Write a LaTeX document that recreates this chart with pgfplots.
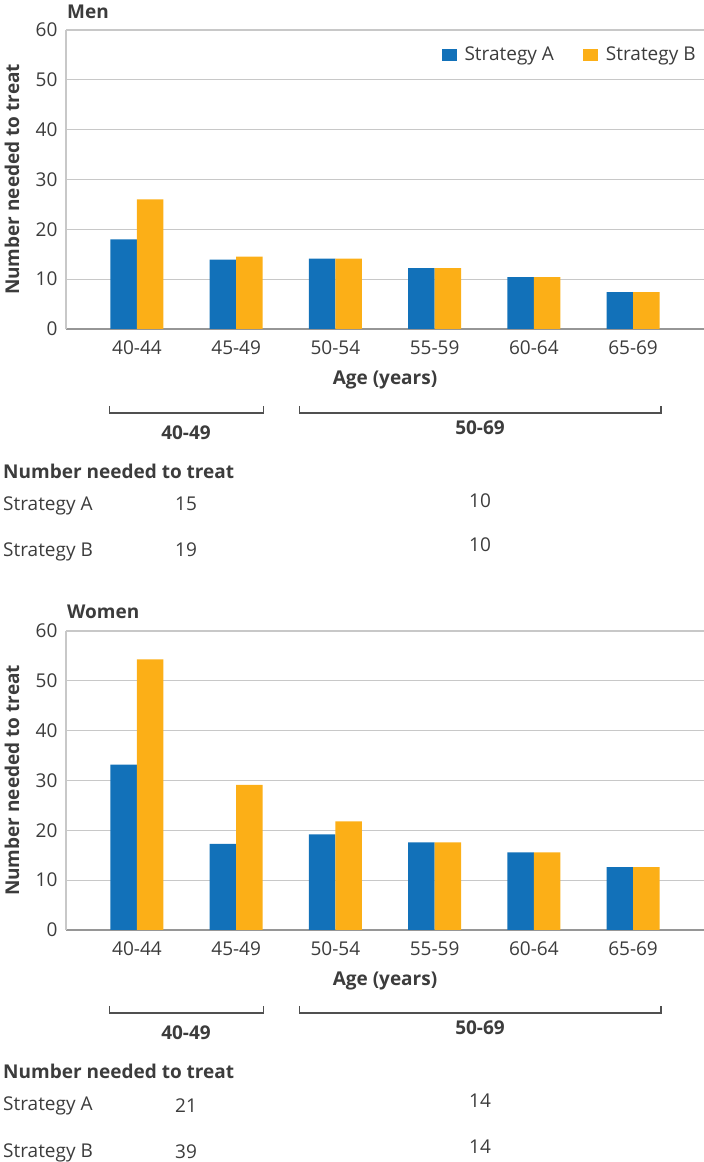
\documentclass[border=0pt]{standalone}
\usepackage{fontspec}
\setmainfont{Open Sans}
\usepackage{pgfplots}
\pgfplotsset{compat=1.18}

\definecolor{stratA}{RGB}{18,113,185}
\definecolor{stratB}{RGB}{252,175,23}
\definecolor{gridgray}{RGB}{200,200,200}
\definecolor{axgray}{RGB}{150,150,150}
\definecolor{txt}{RGB}{60,60,60}

\pgfplotsset{
  nnt/.style={
    scale only axis, width=638pt, height=299pt,
    anchor=south west,
    ybar=0pt, bar width=26.5pt,
    xmin=-0.715, xmax=5.715, ymin=0, ymax=60,
    xtick={0,...,5},
    xticklabels={40-44,45-49,50-54,55-59,60-64,65-69},
    ytick={0,10,...,60},
    /pgf/number format/assume math mode=true,
    axis x line*=bottom, axis y line*=left,
    x axis line style={-, draw=axgray, line width=1.2pt},
    y axis line style={-, draw=gridgray, line width=1.2pt},
    ymajorgrids, major grid style={draw=gridgray, line width=1.2pt},
    major tick length=0pt,
    tick label style={text=txt},
    xticklabel style={yshift=-5pt},
    yticklabel style={xshift=-2pt},
    xlabel={\bfseries Age (years)},
    ylabel={\bfseries Number needed to treat},
    xlabel style={at={(axis description cs:0.5,-0.187)}, anchor=base, text=txt},
    ylabel style={at={(axis description cs:-0.0846,0.5)}, anchor=center, text=txt},
  }
}

\begin{document}
\fontsize{19}{23}\selectfont
\begin{tikzpicture}
\useasboundingbox (0,0) rectangle (704pt,1162pt);

% Men
\begin{axis}[nnt, at={(66pt,833pt)},
    legend style={at={(rel axis cs:0.995,0.916)}, anchor=east, draw=none, fill=none,
                  legend columns=2, text=txt,
                  /tikz/every even column/.append style={column sep=27pt}},
    legend image code/.code={\draw[#1, draw=none] (0pt,-6pt) rectangle (15pt,6pt);
                             \path (21pt,0pt);}]
\addplot[fill=stratA, draw=none] coordinates {(0,18.0) (1,13.9) (2,14.1) (3,12.2) (4,10.4) (5,7.4)};
\addplot[fill=stratB, draw=none] coordinates {(0,26.0) (1,14.5) (2,14.1) (3,12.2) (4,10.4) (5,7.4)};
\legend{Strategy A, Strategy B}
\end{axis}

% Women
\begin{axis}[nnt, at={(66pt,232pt)}]
\addplot[fill=stratA, draw=none] coordinates {(0,33.2) (1,17.3) (2,19.2) (3,17.6) (4,15.6) (5,12.6)};
\addplot[fill=stratB, draw=none] coordinates {(0,54.3) (1,29.1) (2,21.8) (3,17.6) (4,15.6) (5,12.6)};
\end{axis}

\begin{scope}[every node/.style={inner sep=0pt, text=txt}]
  % titles
  \node[anchor=base west, font=\bfseries] at (67pt,1143.5pt) {Men};
  \node[anchor=base west, font=\bfseries] at (67pt,543.5pt) {Women};

  \foreach \dy in {0,600} {
    \draw[draw=txt!90, line width=1.3pt]
      (109.5pt,756pt-\dy pt) -- (109.5pt,749pt-\dy pt) -- (263.5pt,749pt-\dy pt) -- (263.5pt,756pt-\dy pt);
    \draw[draw=txt!90, line width=1.3pt]
      (299.5pt,756pt-\dy pt) -- (299.5pt,749pt-\dy pt) -- (661pt,749pt-\dy pt) -- (661pt,756pt-\dy pt);
    \node[anchor=base, font=\bfseries] at (186pt,722pt-\dy pt) {40-49};
    \node[anchor=base, font=\bfseries] at (480pt,727pt-\dy pt) {50-69};
    \node[anchor=base west, font=\bfseries] at (3pt,683.7pt-\dy pt) {Number needed to treat};
    \node[anchor=base west] at (3pt,651pt-\dy pt) {Strategy A};
    \node[anchor=base west] at (3pt,605pt-\dy pt) {Strategy B};
  }
  % men group values
  \node[anchor=base] at (186pt,651pt) {15};
  \node[anchor=base] at (186pt,605pt) {19};
  \node[anchor=base] at (480pt,654pt) {10};
  \node[anchor=base] at (480pt,610pt) {10};
  % women group values
  \node[anchor=base] at (186pt,49pt) {21};
  \node[anchor=base] at (186pt,4pt) {39};
  \node[anchor=base] at (480pt,54pt) {14};
  \node[anchor=base] at (480pt,9pt) {14};
\end{scope}
\end{tikzpicture}
\end{document}
